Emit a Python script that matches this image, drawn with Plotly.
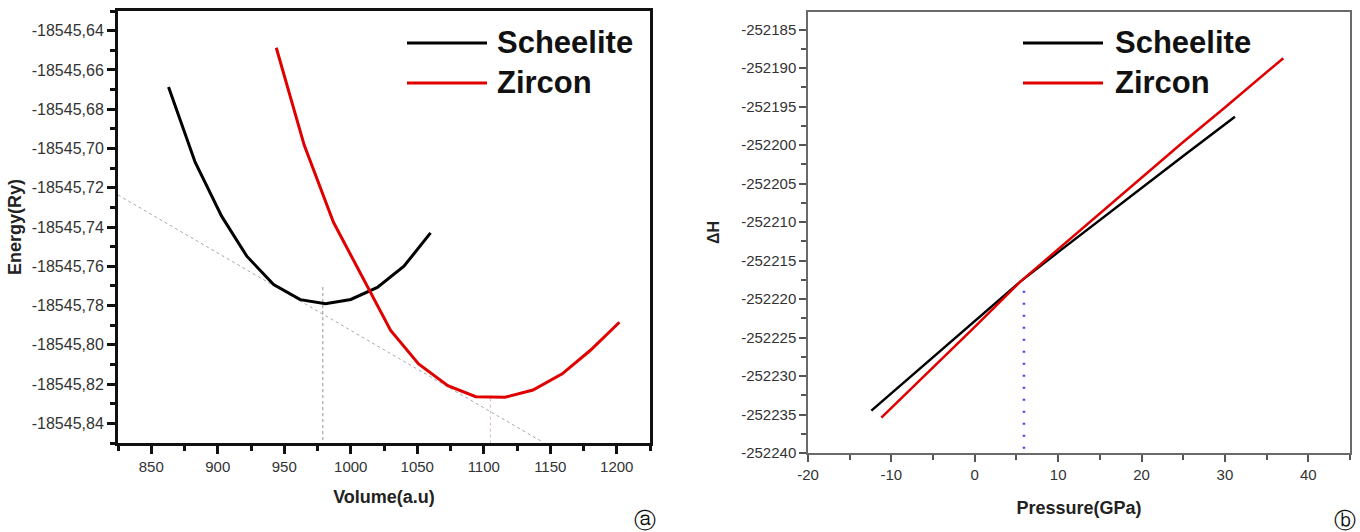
import plotly.graph_objects as go

# ---------------- Panel (a): Energy vs Volume ----------------
scheelite_vol = [863, 883, 903, 922, 942, 962, 981, 1000, 1020, 1040, 1060]
scheelite_energy = [-18545.6687, -18545.7070, -18545.7346, -18545.7550, -18545.7693,
                    -18545.7770, -18545.7791, -18545.7769, -18545.7708, -18545.7600,
                    -18545.7430]

zircon_vol = [944, 965, 987, 1008, 1030, 1051, 1073, 1094, 1116, 1137, 1159, 1180, 1202]
zircon_energy = [-18545.6487, -18545.6983, -18545.7376, -18545.7646, -18545.7927,
                 -18545.8097, -18545.8208, -18545.8264, -18545.8267, -18545.8230,
                 -18545.8148, -18545.8029, -18545.7885]

tangent_vol = [825, 1143]
tangent_energy = [-18545.7237, -18545.8490]

v_mark1_vol = [979, 979]
v_mark1_energy = [-18545.7706, -18545.85]
v_mark2_vol = [1105, 1105]
v_mark2_energy = [-18545.8274, -18545.85]

a_xticks = [850, 900, 950, 1000, 1050, 1100, 1150, 1200]
a_xticklabels = ["850", "900", "950", "1000", "1050", "1100", "1150", "1200"]
a_yticks = [-18545.64, -18545.66, -18545.68, -18545.70, -18545.72, -18545.74,
            -18545.76, -18545.78, -18545.80, -18545.82, -18545.84]
a_yticklabels = ["-18545,64", "-18545,66", "-18545,68", "-18545,70", "-18545,72",
                 "-18545,74", "-18545,76", "-18545,78", "-18545,80", "-18545,82",
                 "-18545,84"]

# ---------------- Panel (b): dH vs Pressure ----------------
scheelite_p = [-12.4, -5, 0, 5.5, 10, 15, 20, 25, 31.2]
scheelite_h = [-252234.5, -252227.6, -252222.9, -252217.7, -252213.9, -252209.7,
               -252205.5, -252201.4, -252196.3]

zircon_p = [-11.2, -5, 0, 5.5, 10, 15, 20, 25, 30, 37]
zircon_h = [-252235.4, -252228.9, -252223.6, -252217.7, -252213.5, -252208.9,
            -252204.2, -252199.6, -252195.1, -252188.7]

transition_p = [5.9, 5.9]
transition_h = [-252241.0, -252217.8]

b_xticks = [-20, -10, 0, 10, 20, 30, 40]
b_xticklabels = ["-20", "-10", "0", "10", "20", "30", "40"]
b_yticks = [-252240, -252235, -252230, -252225, -252220, -252215, -252210, -252205,
            -252200, -252195, -252190, -252185]
b_yticklabels = [str(v) for v in b_yticks]

series_names = ["Scheelite", "Zircon"]
series_colors = ["#000000", "#e00000"]

W, H = 1360, 532
FONT = "Liberation Sans, Arial, sans-serif"

fig = go.Figure()

# panel a traces
fig.add_trace(go.Scatter(x=tangent_vol, y=tangent_energy, mode="lines",
                         line=dict(color="#a8a8a8", width=1, dash="dot"),
                         xaxis="x", yaxis="y", showlegend=False, hoverinfo="skip"))
fig.add_trace(go.Scatter(x=v_mark1_vol, y=v_mark1_energy, mode="lines",
                         line=dict(color="#909090", width=1, dash="dot"),
                         xaxis="x", yaxis="y", showlegend=False, hoverinfo="skip"))
fig.add_trace(go.Scatter(x=v_mark2_vol, y=v_mark2_energy, mode="lines",
                         line=dict(color="#e0b8b8", width=1, dash="dot"),
                         xaxis="x", yaxis="y", showlegend=False, hoverinfo="skip"))
fig.add_trace(go.Scatter(x=scheelite_vol, y=scheelite_energy, mode="lines",
                         name=series_names[0], line=dict(color=series_colors[0], width=3),
                         xaxis="x", yaxis="y", showlegend=False))
fig.add_trace(go.Scatter(x=zircon_vol, y=zircon_energy, mode="lines",
                         name=series_names[1], line=dict(color=series_colors[1], width=3),
                         xaxis="x", yaxis="y", showlegend=False))

# panel b traces
fig.add_trace(go.Scatter(x=transition_p, y=transition_h, mode="lines",
                         line=dict(color="#4040ff", width=2.5, dash="2px,10px"),
                         xaxis="x2", yaxis="y2", showlegend=False, hoverinfo="skip",
                         cliponaxis=False))
fig.add_trace(go.Scatter(x=scheelite_p, y=scheelite_h, mode="lines",
                         name=series_names[0], line=dict(color=series_colors[0], width=2.5),
                         xaxis="x2", yaxis="y2", showlegend=False))
fig.add_trace(go.Scatter(x=zircon_p, y=zircon_h, mode="lines",
                         name=series_names[1], line=dict(color=series_colors[1], width=2.5),
                         xaxis="x2", yaxis="y2", showlegend=False))

ytickfont_a = dict(family=FONT, size=16, color="#333333")
tickfont = dict(family=FONT, size=15, color="#333333")
titlefont = dict(family=FONT, size=18, color="#222222")

# panel a axes (pixel frame: x 118-650, y 11-443)
ax_a = dict(showline=True, linecolor="#111111", linewidth=3, mirror=True,
            ticks="outside", ticklen=8, tickwidth=3, tickcolor="#111111",
            showgrid=False, zeroline=False, tickmode="array", automargin=False)
fig.update_layout(
    xaxis=dict(ax_a, domain=[118 / W, 650 / W], range=[825, 1225],
               tickvals=a_xticks, ticktext=a_xticklabels, anchor="y", tickfont=tickfont,
               minor=dict(tickmode="linear", tick0=825, dtick=25, ticks="outside",
                          ticklen=5, tickwidth=3, tickcolor="#111111"),
               title=dict(text="<b>Volume(a.u)</b>", font=titlefont, standoff=17)),
    yaxis=dict(ax_a, domain=[1 - 443 / H, 1 - 11 / H], range=[-18545.85, -18545.63],
               tickvals=a_yticks, ticktext=a_yticklabels, anchor="x", tickfont=ytickfont_a,
               minor=dict(tickmode="linear", tick0=-18545.85, dtick=0.01, ticks="outside",
                          ticklen=5, tickwidth=3, tickcolor="#111111"),
               title=dict(text="<b>Energy(Ry)</b>", font=titlefont, standoff=6)),
)

# panel b axes (pixel frame: x 808-1350, y 12-453)
ax_b = dict(showline=True, linecolor="#6a6a6a", linewidth=1.5, mirror=True,
            ticks="outside", ticklen=7, tickwidth=1.5, tickcolor="#555555",
            showgrid=False, zeroline=False, tickfont=tickfont, tickmode="array",
            automargin=False)
fig.update_layout(
    xaxis2=dict(ax_b, domain=[808 / W, 1350 / W], range=[-20, 45],
                tickvals=b_xticks, ticktext=b_xticklabels, anchor="y2",
                minor=dict(tickmode="linear", tick0=-20, dtick=5, ticks="outside",
                           ticklen=5, tickwidth=1.5, tickcolor="#555555"),
                title=dict(text="<b>Pressure(GPa)</b>", font=titlefont, standoff=20)),
    yaxis2=dict(ax_b, domain=[1 - 453 / H, 1 - 12 / H], range=[-252240, -252182.7],
                tickvals=b_yticks, ticktext=b_yticklabels, anchor="x2",
                minor=dict(tickmode="linear", tick0=-252240, dtick=2.5, ticks="outside",
                           ticklen=5, tickwidth=1.5, tickcolor="#555555"),
                title=dict(text="<b>ΔH</b>", font=dict(family=FONT, size=16, color="#222222"),
                           standoff=18)),
)

# manual legends (long line samples as in the reference)
legend_rows_y = [43, 83]
legend_specs = [(407, 487, 495), (1023, 1103, 1113)]
shapes = []
annotations = []
for (lx0, lx1, tx) in legend_specs:
    for name, color, ry in zip(series_names, series_colors, legend_rows_y):
        shapes.append(dict(type="line", xref="paper", yref="paper",
                           x0=lx0 / W, x1=lx1 / W, y0=1 - ry / H, y1=1 - ry / H,
                           line=dict(color=color, width=3)))
        annotations.append(dict(xref="paper", yref="paper", x=tx / W, y=1 - ry / H,
                                xanchor="left", yanchor="middle", showarrow=False,
                                text="<b>" + name + "</b>",
                                font=dict(family=FONT, size=31, color="#111111")))

# panel tags
for tag, px in [("ⓐ", 645), ("ⓑ", 1345)]:
    annotations.append(dict(xref="paper", yref="paper", x=px / W, y=1 - 520 / H,
                            xanchor="center", yanchor="middle", showarrow=False,
                            text=tag, font=dict(family="DejaVu Sans", size=22, color="#111111")))

fig.update_layout(
    width=W, height=H,
    margin=dict(l=0, r=0, t=0, b=0, pad=0),
    paper_bgcolor="white", plot_bgcolor="white",
    showlegend=False,
    shapes=shapes, annotations=annotations,
    font=dict(family=FONT),
)

fig.write_html("out.html",
               config={"displayModeBar": False},
               post_script="document.body.style.margin='0px';document.body.style.overflow='hidden';")
